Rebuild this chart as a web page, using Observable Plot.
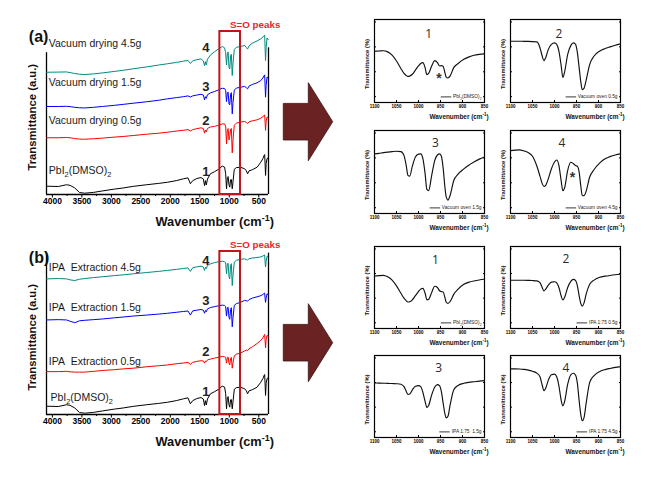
<!DOCTYPE html>
<html><head><meta charset="utf-8">
<script src="https://cdn.jsdelivr.net/npm/d3@7"></script>
<script src="https://cdn.jsdelivr.net/npm/@observablehq/plot@0.6"></script>
<style>
html,body{margin:0;padding:0;background:#fff;}
#fig{position:relative;width:649px;height:481px;overflow:hidden;background:#fff;font-family:"Liberation Sans",Arial,sans-serif;}
</style></head><body><div id="fig"></div>
<script>
// ---------------- DATA ----------------
// main FTIR spectra (a.u., offset as drawn), shared wavenumber grid (cm-1)
const mainWn = [4100,3900,3760,3700,3620,3540,3450,3300,3150,2950,
  2800,2630,2400,2200,2050,1900,1780,1700,1660,1620,
  1550,1480,1440,1420,1405,1390,1370,1320,1250,1180,
  1120,1080,1062,1047,1032,1020,1005,992,978,965,
  950,938,915,880,810,740,710,690,665,610,
  530,466,430,410,400,392,385,375,360,340];
const dmsoMain = [5.1,4.9,6.0,5.6,4.0,1.2,0.8,1.3,2.2,3.3,
  4.0,5.0,6.0,6.8,7.5,8.5,9.6,10.2,6.6,8.5,
  9.8,10.4,9.5,5.5,8.5,5.8,9.5,12.7,14.0,15.5,
  17.4,16.8,13.0,3.5,10.5,11.0,6.0,4.5,9.0,9.2,
  3.5,7.5,15.5,16.5,16.7,15.8,14.5,12.7,14.5,15.2,
  16.7,19.8,22.0,23.9,24.5,18.0,11.7,19.0,22.0,22.5];
const vacMain05 = [34.8,34.8,35.0,34.8,34.3,34.0,33.9,34.2,34.6,35.2,
  35.6,36.2,37.0,37.6,38.2,38.9,39.4,39.8,39.0,39.8,
  40.4,40.9,40.5,37.6,39.5,38.5,40.5,41.4,41.8,42.5,
  43.3,43.3,42.0,31.0,40.0,40.5,33.5,35.5,40.0,40.5,
  25.5,33.0,42.5,43.8,44.4,44.8,44.2,43.5,44.6,45.2,
  45.8,46.8,47.8,48.5,48.8,44.0,39.3,45.0,47.5,47.0];
const vacMain15 = [54.0,54.0,54.1,53.9,53.5,53.2,53.1,53.5,54.0,54.7,
  55.3,56.0,56.9,57.8,58.7,59.4,60.0,60.5,59.8,60.5,
  61.0,61.5,61.0,58.1,60.0,59.0,61.2,62.3,63.2,64.2,
  65.2,65.0,64.0,57.0,62.5,62.8,55.5,55.0,61.5,62.5,
  49.5,56.0,64.0,65.3,65.8,66.3,65.5,64.8,66.5,67.5,
  68.5,69.9,71.5,73.0,73.3,66.0,59.7,67.0,72.0,71.5];
const vacMain45 = [75.0,75.1,75.2,74.8,74.2,73.8,73.6,74.0,74.6,75.5,
  76.2,77.1,78.3,79.4,80.2,81.0,81.8,82.2,80.4,82.0,
  82.7,83.2,82.0,79.0,81.5,79.5,83.0,85.5,87.6,89.4,
  90.8,90.0,87.0,79.5,86.5,87.5,78.0,77.0,85.0,86.0,
  73.0,80.0,89.0,90.3,90.8,91.4,90.2,89.2,91.2,92.8,
  94.2,95.5,96.6,97.5,97.8,89.0,82.2,90.0,96.0,95.0];
const ipaMain05 = [26.3,26.3,26.5,26.2,26.0,26.0,26.0,26.5,27.0,27.5,
  28.0,28.4,29.3,29.9,30.4,31.1,31.6,31.9,30.8,32.0,
  32.6,33.0,32.8,31.5,32.8,32.4,33.5,34.0,34.6,35.1,
  35.6,35.4,35.0,31.5,35.0,35.3,31.5,30.4,34.5,35.0,
  28.4,31.5,36.0,37.0,37.7,39.0,39.5,39.2,40.3,41.5,
  43.5,45.5,47.0,48.5,49.1,45.0,40.8,46.0,48.5,48.0];
const ipaMain15 = [58.0,58.2,58.0,57.2,56.3,57.5,57.8,58.2,58.6,59.3,
  59.8,60.4,61.0,61.6,62.1,62.7,63.2,63.5,61.0,63.6,
  64.0,64.4,64.0,62.1,63.8,63.0,64.8,65.6,66.2,66.7,
  67.1,66.9,66.2,60.4,65.5,65.8,59.5,58.4,64.5,65.5,
  53.8,59.0,67.0,68.0,68.8,70.0,69.8,69.5,70.5,71.4,
  72.2,72.9,73.6,74.3,74.5,71.0,68.8,71.5,74.0,73.5];
const ipaMain45 = [83.2,83.4,83.2,82.6,82.2,83.0,83.4,84.0,84.5,85.2,
  85.7,86.3,87.1,87.8,88.4,89.0,89.6,89.9,87.8,90.0,
  90.6,91.0,90.5,88.4,90.3,89.5,91.5,92.4,93.2,93.7,
  94.0,93.8,93.0,86.3,92.5,92.8,84.5,83.2,91.5,92.5,
  79.1,85.0,93.5,94.6,95.2,95.5,95.0,94.8,95.6,96.0,
  96.3,96.7,97.2,97.7,97.9,93.0,90.5,94.0,97.0,96.5];
const mainTicks = [4000,3500,3000,2500,2000,1500,1000,500];
const mainMinorTicks = [3750,3250,2750,2250,1750,1250,750];
const soBand = [1160, 810];
const panelALabels = ["PbI_{2}(DMSO)_{2}","Vacuum drying 0.5g","Vacuum drying 1.5g","Vacuum drying 4.5g"];
const panelBLabels = ["PbI_{2}(DMSO)_{2}","IPA\u00a0 Extraction 0.5g","IPA\u00a0 Extraction 1.5g","IPA\u00a0 Extraction 4.5g"];
const sampleNumbers = ["1","2","3","4"];
const seriesColors = ["#000000","#ff0000","#0000ff","#008b80"];

// inset S=O region spectra (Transmittance %), shared wavenumber grid
const insetWn = [1100,1090,1080,1070,1060,1050,1040,1033,1028,1024,
  1020,1014,1007,1000,995,990,985,981,977,970,
  963,957,952,948,944,940,937,933,928,920,
  910,897,885,874,862,850];
const insetVac00 = [61.7,62.0,62.3,61.0,57.0,50.0,41.0,35.0,32.5,31.5,
  31.8,34.0,39.0,44.0,47.0,48.0,42.0,33.5,35.0,44.0,
  50.4,48.0,44.0,44.5,43.5,36.0,30.5,29.5,32.0,42.0,
  47.0,52.0,55.0,56.9,58.0,58.5];
const insetVac05 = [73.8,73.8,73.8,73.7,73.6,73.4,73.0,66.0,56.0,50.4,
  54.0,64.0,70.0,71.8,70.0,62.0,45.0,30.2,37.0,58.0,
  68.5,71.8,70.0,60.0,42.0,24.0,15.5,17.0,27.0,46.0,
  56.0,62.0,65.0,67.0,69.0,70.6];
const insetVac15 = [71.8,72.5,73.3,74.0,74.6,75.0,74.6,70.0,58.0,46.0,
  45.0,57.0,68.0,71.5,71.8,66.0,48.0,29.0,27.5,46.0,
  64.0,70.5,71.8,69.0,55.0,32.0,20.0,16.2,22.0,39.5,
  47.5,53.7,58.5,62.0,65.5,68.0];
const insetVac45 = [75.8,76.3,76.6,75.5,73.5,69.0,57.0,45.0,36.0,32.7,
  34.0,42.0,54.0,62.0,64.5,58.0,40.0,27.4,31.0,52.0,
  61.7,60.0,57.7,57.0,50.0,32.0,22.0,21.4,27.0,44.0,
  53.0,61.0,66.0,68.5,70.5,71.8];
const insetIpa00 = [64.0,64.5,64.8,63.0,59.0,52.0,43.0,37.0,34.0,32.3,
  32.6,35.0,40.0,45.0,48.0,49.0,43.0,35.0,35.5,44.0,
  51.5,50.0,46.0,45.0,44.5,38.0,32.0,30.6,33.0,41.6,
  48.0,53.9,56.5,58.0,59.2,60.0];
const insetIpa05 = [58.8,58.8,58.8,58.8,58.7,58.5,58.0,56.0,50.0,45.7,
  48.0,53.0,56.5,57.0,55.5,50.0,40.0,34.7,38.0,50.0,
  57.5,60.0,58.5,52.0,40.0,30.0,27.3,31.0,42.0,53.9,
  59.0,62.5,63.8,64.7,65.5,66.1];
const insetIpa15 = [66.5,66.4,66.2,66.0,65.8,65.6,65.0,62.0,56.5,52.5,
  53.0,58.0,62.5,63.3,62.0,55.0,44.0,36.7,39.0,52.0,
  61.5,64.5,63.0,56.0,42.0,29.0,24.0,26.0,40.0,58.0,
  63.5,66.1,67.3,68.0,68.8,69.4];
const insetIpa45 = [83.7,83.7,83.5,83.0,82.2,80.8,78.5,74.0,64.0,57.1,
  60.0,70.0,76.5,77.2,74.0,63.0,46.0,38.5,44.0,65.0,
  76.5,78.4,76.0,66.0,45.0,27.0,20.4,24.0,42.0,67.3,
  75.5,80.5,82.8,84.2,85.5,86.5];
const insetTicks = [1100,1050,1000,950,900,850];
const insetYTicks = [7,37,67,97];
const insetLegendA = ["PbI_{2}(DMSO)_{2}","Vacuum oven 0.5g","Vacuum oven 1.5g","Vacuum oven 4.5g"];
const insetLegendB = ["PbI_{2}(DMSO)_{2}","IPA 1:75 0.5g","IPA 1:75\u00a0 1.5g","IPA 1:75 4.5g"];

// ---------------- HELPERS ----------------
const FONT = '"Liberation Sans", Arial, sans-serif';
const fig = document.getElementById("fig");
const ctx = document.createElement("canvas").getContext("2d");
const SCRIPT = /([_^])\{([^}]*)\}/g;
function plain(s){ return s.replace(SCRIPT, "$2"); }
function textW(s, size, weight){
  ctx.font = `${weight||"normal"} ${size}px "Liberation Sans"`;
  let w = ctx.measureText(plain(s)).width;
  s.replace(SCRIPT, (m, k, g) => { w -= 0.3 * ctx.measureText(g).width; return m; });
  return w;
}
function richify(svg){
  svg.querySelectorAll("text").forEach(t => {
    const s = t.textContent;
    if (!/[_^]\{/.test(s)) return;
    while (t.firstChild) t.removeChild(t.firstChild);
    const add = (str, dy, small) => {
      const sp = document.createElementNS("http://www.w3.org/2000/svg","tspan");
      sp.textContent = str;
      if (dy) sp.setAttribute("dy", dy);
      if (small) sp.setAttribute("font-size", "70%");
      t.appendChild(sp);
    };
    let last = 0, m, pending = null;
    SCRIPT.lastIndex = 0;
    while ((m = SCRIPT.exec(s))) {
      if (m.index > last) { add(s.slice(last, m.index), pending); pending = null; }
      const sub = m[1] === "_";
      add(m[2], sub ? "0.43em" : "-0.6em", true);
      pending = sub ? "-0.3em" : "0.42em";
      last = SCRIPT.lastIndex;
    }
    if (last < s.length) add(s.slice(last), pending);
  });
}
function place(el, left, top){
  el.style.position = "absolute";
  el.style.left = left + "px";
  el.style.top = top + "px";
  fig.appendChild(el);
  richify(el);
}
function note(str, o){
  return Plot.text([str], {text: d => d, frameAnchor: "top-left", lineAnchor: "middle", fontFamily: FONT, ...o});
}
// rotated axis title: x from the frame's left edge, y from the scale
function vtitle(str, yVal, o){
  return Plot.text([str], {text: d => d, frameAnchor: "left", y: () => yVal, rotate: -90,
    textAnchor: "middle", lineAnchor: "middle", fontFamily: FONT, ...o});
}

// ---------------- MAIN PANELS ----------------
const MAIN = {w: 280, h: 235, ml: 46, mr: 12, mt: 31, mb: 41, xDom: [4100, 335]};
function mainPanel(cfg){
  const marks = [
    Plot.ruleY([0], {stroke: "#000", strokeWidth: 1.3}),
    Plot.ruleX([MAIN.xDom[0]], {y1: 0, y2: cfg.leftTop, stroke: "#000", strokeWidth: 1.3}),
    Plot.ruleX([MAIN.xDom[1]], {y1: 0, y2: cfg.rightTop, stroke: "#000", strokeWidth: 1.3}),
    Plot.axisX({ticks: mainTicks, tickSize: 3.5, tickPadding: 0, fontSize: 8.5, fontWeight: "bold",
      fontFamily: FONT, tickFormat: d => String(d), label: null}),
    Plot.axisX({ticks: mainMinorTicks, tickSize: 2, tickFormat: () => "", label: null})
  ];
  cfg.series.forEach((vals, i) => {
    marks.push(Plot.line(mainWn.map((w, j) => [w, vals[j]]),
      {x: d => d[0], y: d => d[1], stroke: seriesColors[i], strokeWidth: 1}));
  });
  marks.push(Plot.rect([soBand], {x1: d => d[0], x2: d => d[1], y1: 0, y2: 100,
    fill: "none", stroke: "#c0151b", strokeWidth: 2}));
  marks.push(note(cfg.tag, {dx: -17.7, dy: cfg.tagDy, fontSize: 16, fontWeight: "bold", fill: "#111"}));
  marks.push(note("S=O peaks", {dx: 183.5, dy: -7, fontSize: 9.8, fontWeight: "bold", fill: "#e8262b"}));
  cfg.labels.forEach((lab, i) => {
    marks.push(note(lab, {dx: cfg.labelDx[i], dy: cfg.labelDy[i], textAnchor: "start", fontSize: 10.5, fill: "#1a1a1a"}));
    marks.push(note(sampleNumbers[i], {dx: 155.7, dy: cfg.numDy[i], fontSize: 13, fontWeight: "bold", fill: "#222"}));
  });
  marks.push(note("Wavenumber (cm^{-1})", {dx: 109, dy: 190.7, fontSize: 12.8, fontWeight: "bold", fill: "#111"}));
  marks.push(vtitle("Transmittance (a.u.)", 47.4, {dx: -14.3, fontSize: 11.3, fontWeight: "bold", fill: "#111"}));
  return Plot.plot({
    width: MAIN.w, height: MAIN.h,
    marginLeft: MAIN.ml, marginRight: MAIN.mr, marginTop: MAIN.mt, marginBottom: MAIN.mb,
    x: {domain: MAIN.xDom}, y: {domain: [0, 100], axis: null},
    style: {background: "transparent", overflow: "visible", fontFamily: FONT, color: "#000"},
    marks
  });
}

place(mainPanel({
  series: [dmsoMain, vacMain05, vacMain15, vacMain45], labels: panelALabels, tag: "(a)", tagDy: 5.7,
  labelDx: [2.3, 2.3, 2.3, 2.3], labelDy: [139, 89, 50.7, 12.3], numDy: [140.7, 89, 55.7, 16.3],
  leftTop: 87, rightTop: 90
}), 0, 0);
place(mainPanel({
  series: [dmsoMain, ipaMain05, ipaMain15, ipaMain45], labels: panelBLabels, tag: "(b)", tagDy: 6,
  labelDx: [4, 2.3, 2.3, 2.3], labelDy: [145.7, 109.7, 55.7, 15.7], numDy: [140.7, 100, 49, 9.7],
  leftTop: 99, rightTop: 99
}), 0, 220);

// ---------------- INSETS ----------------
const INSET = {w: 110, ml: 20, mr: 8, mt: 9, mb: 22, xDom: [1100, 850]};
function inset(cfg){
  const W = INSET.w, H = cfg.h;
  const lw = textW(cfg.legend, 4.8);
  const pxToWn = px => INSET.xDom[0] - px / W * (INSET.xDom[0] - INSET.xDom[1]);
  const legEnd = W - 3;
  const lineR = legEnd - lw - 1.2, lineL = lineR - 10.5;
  const legY = 5.6 / H * 100;
  const marks = [
    Plot.frame({stroke: "#000", strokeWidth: 1.2}),
    Plot.axisX({ticks: insetTicks, tickSize: -2, tickPadding: 4, fontSize: 4.5, fontWeight: "bold",
      fontFamily: FONT, tickFormat: d => String(d), label: null}),
    Plot.axisY({ticks: insetYTicks, anchor: "left", tickSize: -2, tickFormat: () => "", label: null}),
    Plot.axisY({ticks: insetYTicks, anchor: "right", tickSize: -2, tickFormat: () => "", label: null}),
    Plot.line(insetWn.map((w, j) => [w, cfg.values[j]]),
      {x: d => d[0], y: d => d[1], curve: "monotone-x", stroke: "#111", strokeWidth: 1.15}),
    Plot.ruleY([legY], {x1: pxToWn(lineL), x2: pxToWn(lineR), stroke: "#222", strokeWidth: 0.9}),
    note(cfg.legend, {dx: legEnd, dy: H - 5.6, textAnchor: "end", fontSize: 4.8, fill: "#222"}),
    note(cfg.num, {dx: cfg.numPos[0], dy: cfg.numPos[1], fontSize: 12, fill: "#2a2a2a",
      fontFamily: '"Open Sans", "Liberation Sans", sans-serif'}),
    note("Wavenumber (cm^{-1})", {dx: W / 2, dy: H + 14, fontSize: 6.4, fontWeight: "bold", fill: "#111"}),
    vtitle("Transmittance (%)", 50 - 3 / H * 100, {dx: -7.6, fontSize: 5.8, fontWeight: "bold", fill: "#111"})
  ];
  if (cfg.star) marks.push(note("*", {dx: cfg.star[0], dy: cfg.star[1], fontSize: 14, fontWeight: "bold", fill: "#333"}));
  const el = Plot.plot({
    width: INSET.ml + W + INSET.mr, height: INSET.mt + H + INSET.mb,
    marginLeft: INSET.ml, marginRight: INSET.mr, marginTop: INSET.mt, marginBottom: INSET.mb,
    x: {domain: INSET.xDom}, y: {domain: [0, 100]},
    style: {background: "transparent", overflow: "visible", fontFamily: FONT, color: "#000"},
    marks
  });
  place(el, cfg.left - INSET.ml, cfg.top - INSET.mt);
}
const insetLayout = [
  {left: 374.3, top: 19, h: 83, values: insetVac00, legend: insetLegendA[0], num: sampleNumbers[0], numPos: [50.7, 15], star: [61.7, 59]},
  {left: 510, top: 19, h: 83, values: insetVac05, legend: insetLegendA[1], num: sampleNumbers[1], numPos: [45, 15]},
  {left: 374.3, top: 130, h: 83, values: insetVac15, legend: insetLegendA[2], num: sampleNumbers[2], numPos: [57.4, 12.7]},
  {left: 510, top: 130, h: 83, values: insetVac45, legend: insetLegendA[3], num: sampleNumbers[3], numPos: [48, 12.7], star: [59.3, 47]},
  {left: 374.3, top: 245.6, h: 82, values: insetIpa00, legend: insetLegendB[0], num: sampleNumbers[0], numPos: [57.4, 13.7]},
  {left: 510, top: 245.6, h: 82, values: insetIpa05, legend: insetLegendB[1], num: sampleNumbers[1], numPos: [52, 12.4]},
  {left: 374.3, top: 355, h: 82, values: insetIpa15, legend: insetLegendB[2], num: sampleNumbers[2], numPos: [60.7, 13]},
  {left: 510, top: 355, h: 82, values: insetIpa45, legend: insetLegendB[3], num: sampleNumbers[3], numPos: [52, 13]}
];
insetLayout.forEach(inset);

// ---------------- ARROWS (decoration) ----------------
const arrows = d3.create("svg").attr("width", 649).attr("height", 481)
  .style("position", "absolute").style("left", "0px").style("top", "0px").style("pointer-events", "none");
[121.7, 342.7].forEach(mid => {
  const x0 = 283.3, xb = 308.3, xt = 332.7, bh = 18.3, hh = 39;
  arrows.append("polygon")
    .attr("points", [[x0, mid - bh], [xb, mid - bh], [xb, mid - hh], [xt, mid], [xb, mid + hh], [xb, mid + bh], [x0, mid + bh]].map(p => p.join(",")).join(" "))
    .attr("fill", "#6a2222").attr("stroke", "#3b1212").attr("stroke-width", 0.8);
});
fig.appendChild(arrows.node());
</script></body></html>
